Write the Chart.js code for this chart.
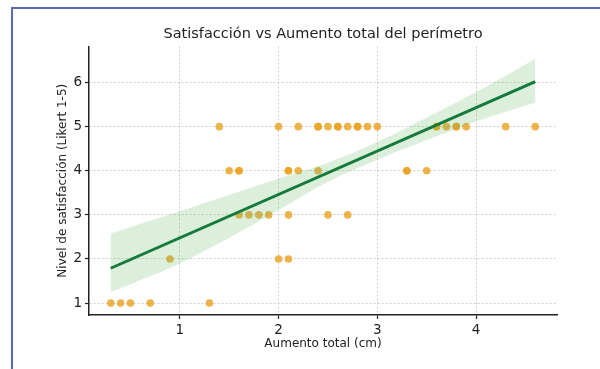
<!DOCTYPE html>
<html>
<head>
<meta charset="utf-8">
<script src="https://cdn.jsdelivr.net/npm/chart.js@4"></script>
<style>
  body { margin: 0; background: #fff; }
  #wrap { position: relative; width: 600px; height: 369px; overflow: hidden; }
  #frame { position: absolute; left: 11px; top: 7px; right: -10px; bottom: -10px;
           border-left: 2px solid #5b6bb8; border-top: 2px solid #5b6bb8; pointer-events: none; }
</style>
</head>
<body>
<div id="wrap">
  <canvas id="chart" width="600" height="369"></canvas>
  <div id="frame"></div>
</div>
<script>
// Puntos: aumento total (cm) y nivel de satisfacción
const increase = [
  0.3, 0.4, 0.5, 0.7, 1.3,
  0.9, 2.0, 2.1,
  1.6, 1.7, 1.8, 1.9, 2.1, 2.5, 2.7,
  1.5, 1.6, 1.6, 2.1, 2.1, 2.2, 2.4, 3.3, 3.3, 3.5,
  1.4, 2.0, 2.2, 2.4, 2.4, 2.5, 2.6, 2.6, 2.7, 2.8, 2.8, 2.9, 3.0,
  3.6, 3.6, 3.7, 3.8, 3.8, 3.9, 4.3, 4.6
];
const satisfaction = [
  1, 1, 1, 1, 1,
  2, 2, 2,
  3, 3, 3, 3, 3, 3, 3,
  4, 4, 4, 4, 4, 4, 4, 4, 4, 4,
  5, 5, 5, 5, 5, 5, 5, 5, 5, 5, 5, 5, 5,
  5, 5, 5, 5, 5, 5, 5, 5
];

// Recta de regresión y banda de confianza
const fitX = [0.3, 4.6];
const fitY = [1.79, 6.02];
const bandX = [0.3, 1.0, 1.9, 2.5, 3.0, 3.6, 4.0, 4.6];
const bandLow = [1.25, 1.90, 2.98, 3.75, 4.25, 4.78, 5.12, 5.55];
const bandHigh = [2.58, 3.08, 3.75, 4.18, 4.65, 5.32, 5.78, 6.54];

const xTicks = [1, 2, 3, 4];
const yTicks = [1, 2, 3, 4, 5, 6];

const toPoints = (xs, ys) => xs.map((x, i) => ({ x: x, y: ys[i] }));

const font = "'DejaVu Sans', sans-serif";
const gridStyle = { color: "#cfcfcf", lineWidth: 1, tickLength: 4, tickColor: "#222", tickWidth: 1.2 };
const borderStyle = { display: true, color: "#222", width: 1.5, dash: [2, 2] };

const ctx = document.getElementById("chart").getContext("2d");
const chart = new Chart(ctx, {
  type: "scatter",
  data: {
    datasets: [
      {
        label: "banda inferior",
        data: toPoints(bandX, bandLow),
        showLine: true,
        borderWidth: 0,
        pointRadius: 0,
        cubicInterpolationMode: "monotone",
        order: 2,
      },
      {
        label: "banda superior",
        data: toPoints(bandX, bandHigh),
        showLine: true,
        borderWidth: 0,
        pointRadius: 0,
        cubicInterpolationMode: "monotone",
        fill: "-1",
        backgroundColor: "rgba(90, 180, 90, 0.22)",
        order: 1,
      },
      {
        label: "regresión",
        data: toPoints(fitX, fitY),
        showLine: true,
        borderColor: "#137a3a",
        borderWidth: 3,
        pointRadius: 0,
        order: 0,
      },
      {
        label: "datos",
        data: toPoints(increase, satisfaction),
        backgroundColor: "rgba(234, 163, 35, 0.82)",
        borderWidth: 0,
        pointRadius: 3.8,
        order: 3,
      },
    ],
  },
  options: {
    responsive: false,
    animation: false,
    layout: { padding: { left: 50, right: 43, top: 10, bottom: 10 } },
    plugins: {
      legend: { display: false },
      tooltip: { enabled: false },
      title: {
        display: true,
        fullSize: false,
        text: "Satisfacción vs Aumento total del perímetro",
        color: "#222",
        font: { family: font, size: 14.5, weight: "normal" },
        padding: { top: 16, bottom: 3 },
      },
    },
    scales: {
      x: {
        type: "linear",
        min: 0.08,
        max: 4.82,
        afterBuildTicks: (s) => { s.ticks = xTicks.map((v) => ({ value: v })); },
        afterFit: (s) => { s.height = 44; },
        grid: gridStyle,
        border: borderStyle,
        ticks: { color: "#222", padding: 3, font: { family: font, size: 13.5 } },
        title: {
          display: true,
          text: "Aumento total (cm)",
          color: "#222",
          font: { family: font, size: 12 },
          padding: { top: 2, bottom: 8 },
        },
      },
      y: {
        type: "linear",
        min: 0.73,
        max: 6.82,
        afterBuildTicks: (s) => { s.ticks = yTicks.map((v) => ({ value: v })); },
        afterFit: (s) => { s.width = 39; },
        grid: gridStyle,
        border: borderStyle,
        ticks: { color: "#222", padding: 3, font: { family: font, size: 13.5 } },
        title: {
          display: true,
          text: "Nivel de satisfacción (Likert 1-5)",
          color: "#222",
          font: { family: font, size: 12 },
          padding: { top: 6, bottom: 2 },
        },
      },
    },
  },
});
</script>
</body>
</html>
